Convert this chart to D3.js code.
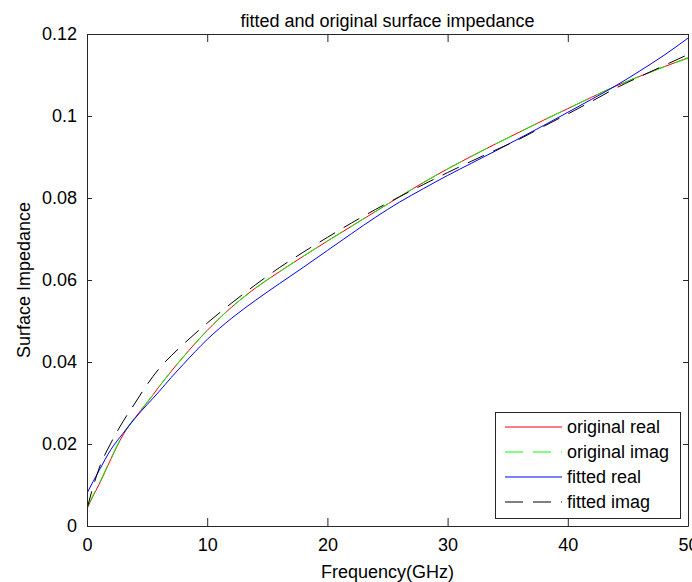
<!DOCTYPE html>
<html>
<head>
<meta charset="utf-8">
<script src="https://cdn.jsdelivr.net/npm/d3@7"></script>
<style>
  html, body { margin: 0; padding: 0; background: #fff; }
  svg { display: block; font-family: "Liberation Sans", Arial, Helvetica, sans-serif; }
</style>
</head>
<body>
<svg id="chart" width="692" height="582"></svg>
<script>
// ---- data ----
const freq       = [0, 0.5, 1, 2, 3, 4, 5, 6, 7, 8, 10, 12, 14, 16, 18, 20, 22, 24, 26, 28, 30, 32, 34, 36, 38, 40, 42, 44, 46, 48, 50];
const origReal   = [0.0042, 0.0073, 0.0101, 0.0164, 0.0222, 0.0264, 0.0301, 0.0340, 0.0377, 0.0412, 0.0477, 0.0533, 0.0580, 0.0620, 0.0658, 0.0695, 0.0731, 0.0767, 0.0803, 0.0838, 0.0871, 0.0902, 0.0932, 0.0961, 0.0990, 0.1018, 0.1046, 0.1073, 0.1097, 0.1120, 0.1142];
const origImag   = [0.0046, 0.0075, 0.0103, 0.0166, 0.0224, 0.0265, 0.0302, 0.0340, 0.0377, 0.0412, 0.0477, 0.0533, 0.0580, 0.0620, 0.0658, 0.0695, 0.0731, 0.0767, 0.0803, 0.0838, 0.0871, 0.0902, 0.0932, 0.0961, 0.0990, 0.1018, 0.1046, 0.1073, 0.1097, 0.1120, 0.1141];
const fitReal    = [0.0080, 0.0108, 0.0135, 0.0187, 0.0226, 0.0263, 0.0296, 0.0328, 0.0362, 0.0394, 0.0455, 0.0506, 0.0550, 0.0591, 0.0631, 0.0672, 0.0713, 0.0753, 0.0790, 0.0823, 0.0855, 0.0885, 0.0915, 0.0946, 0.0977, 0.1009, 0.1041, 0.1074, 0.1110, 0.1148, 0.1190];
const fitImag    = [0.0042, 0.0095, 0.0140, 0.0203, 0.0255, 0.0300, 0.0345, 0.0384, 0.0415, 0.0443, 0.0495, 0.0543, 0.0588, 0.0630, 0.0668, 0.0704, 0.0739, 0.0772, 0.0803, 0.0833, 0.0862, 0.0890, 0.0917, 0.0944, 0.0975, 0.1005, 0.1036, 0.1068, 0.1096, 0.1123, 0.1150];
const xTicks     = [0, 10, 20, 30, 40, 50];
const yTicks     = [0, 0.02, 0.04, 0.06, 0.08, 0.1, 0.12];
const yTickLabels = ["0", "0.02", "0.04", "0.06", "0.08", "0.1", "0.12"];
const seriesNames = ["original real", "original imag", "fitted real", "fitted imag"];
const seriesColors = ["#ff0000", "#00ff00", "#0000ff", "#000000"];
const seriesDash = [null, "18,10", null, "18,10"];
const titleText = "fitted and original surface impedance";
const xLabel = "Frequency(GHz)";
const yLabel = "Surface Impedance";

// ---- layout ----
const svg = d3.select("#chart");
const L = 87, R = 688, T = 34, B = 526;
const x = d3.scaleLinear().domain([0, 50]).range([L, R]);
const y = d3.scaleLinear().domain([0, 0.12]).range([B, T]);
const axisColor = "#262626";
const fontSize = 18;

// clip
svg.append("defs").append("clipPath").attr("id", "clip")
  .append("rect").attr("x", L).attr("y", T).attr("width", R - L).attr("height", B - T);

// series
const allSeries = [origReal, origImag, fitReal, fitImag];
const line = d3.line().x((d, i) => x(freq[i])).y(d => y(d)).curve(d3.curveMonotoneX);
const g = svg.append("g").attr("clip-path", "url(#clip)");
allSeries.forEach((vals, k) => {
  g.append("path").datum(vals)
    .attr("d", line)
    .attr("fill", "none")
    .attr("stroke", seriesColors[k])
    .attr("stroke-width", 1)
    .attr("stroke-dasharray", seriesDash[k]);
});

// axes (inward ticks, box)
const xAxisB = d3.axisBottom(x).tickValues(xTicks).tickSizeInner(-8).tickSizeOuter(0).tickPadding(12);
const xAxisT = d3.axisTop(x).tickValues(xTicks).tickSizeInner(-8).tickSizeOuter(0).tickFormat("");
const yAxisL = d3.axisLeft(y).tickValues(yTicks).tickSizeInner(-5).tickSizeOuter(0).tickPadding(10)
  .tickFormat((d, i) => yTickLabels[i]);
const yAxisR = d3.axisRight(y).tickValues(yTicks).tickSizeInner(-5).tickSizeOuter(0).tickFormat("");

function style(sel) {
  sel.selectAll("path.domain").attr("stroke", axisColor).attr("stroke-width", 1);
  sel.selectAll(".tick line").attr("stroke", axisColor);
  sel.selectAll("text").attr("fill", "#000").style("font-size", fontSize + "px")
    .style("font-family", '"Liberation Sans", Arial, sans-serif');
}
svg.append("g").attr("transform", `translate(0,${B})`).call(xAxisB).call(style);
svg.append("g").attr("transform", `translate(0,${T})`).call(xAxisT).call(style);
svg.append("g").attr("transform", `translate(${L},0)`).call(yAxisL).call(style);
svg.append("g").attr("transform", `translate(${R},0)`).call(yAxisR).call(style);

// title & labels
svg.append("text").attr("x", (L + R) / 2).attr("y", 27).attr("text-anchor", "middle")
  .style("font-size", fontSize + "px").attr("fill", "#000").text(titleText);
svg.append("text").attr("x", (L + R) / 2).attr("y", 578).attr("text-anchor", "middle")
  .style("font-size", fontSize + "px").attr("fill", "#000").text(xLabel);
svg.append("text").attr("transform", `translate(30,${(T + B) / 2}) rotate(-90)`).attr("text-anchor", "middle")
  .style("font-size", fontSize + "px").attr("fill", "#000").text(yLabel);

// legend
const lg = svg.append("g");
lg.append("rect").attr("x", 495.5).attr("y", 412.5).attr("width", 185).attr("height", 106)
  .attr("fill", "#fff").attr("stroke", axisColor).attr("stroke-width", 1);
seriesNames.forEach((name, k) => {
  const cy = 427 + k * 25;
  lg.append("line").attr("x1", 505).attr("x2", 562).attr("y1", cy).attr("y2", cy)
    .attr("stroke", seriesColors[k]).attr("stroke-width", 1).attr("stroke-dasharray", seriesDash[k]);
  lg.append("text").attr("x", 567).attr("y", cy).attr("dy", "0.35em")
    .style("font-size", fontSize + "px").attr("fill", "#000").text(name);
});
</script>
</body>
</html>
